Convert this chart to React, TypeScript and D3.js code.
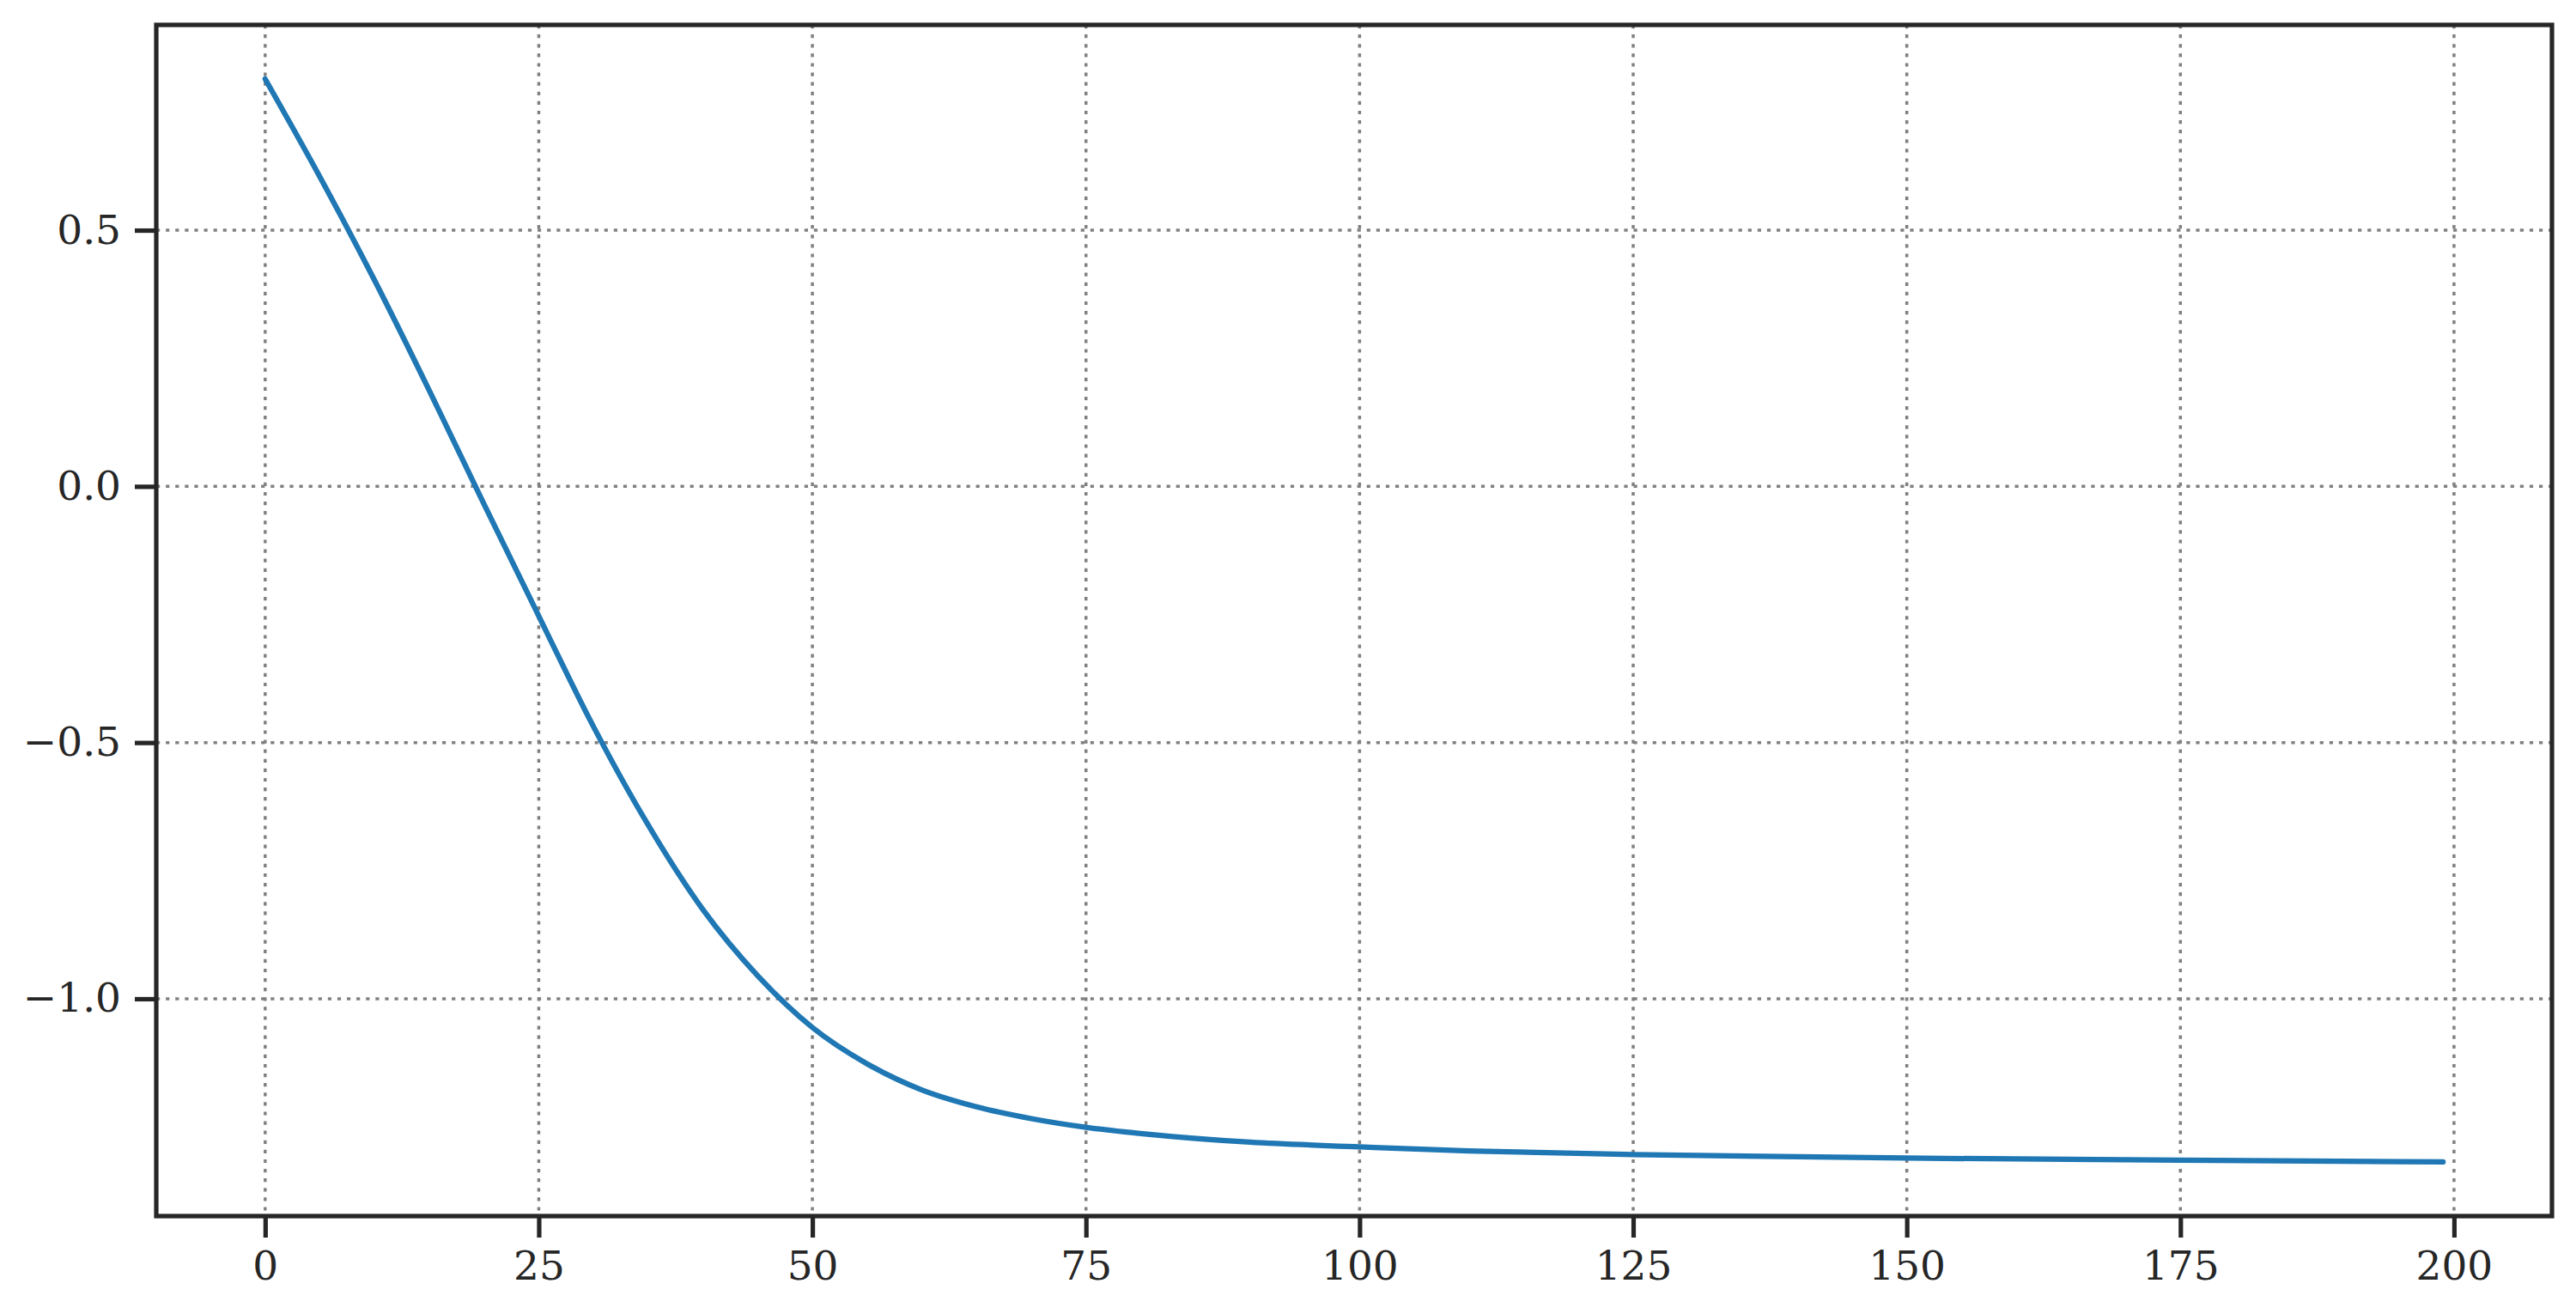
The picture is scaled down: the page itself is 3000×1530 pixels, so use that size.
import { useEffect, useRef } from "react";
import * as d3 from "d3";

const steps = [0, 5, 10, 15, 20, 25, 30, 35, 40, 45, 50, 55, 60, 65, 70, 75, 80, 90, 100, 110, 125, 150, 175, 199];
const values = [
    0.795, 0.604, 0.402, 0.187, -0.035, -0.253, -0.469, -0.661, -0.826, -0.955, -1.056, -1.127, -1.178,
    -1.211, -1.234, -1.251, -1.263, -1.28, -1.289, -1.297, -1.304, -1.311, -1.315, -1.3185,
];
const xTicks = [0, 25, 50, 75, 100, 125, 150, 175, 200];
const yTicks = [-1.0, -0.5, 0.0, 0.5];

const FONT = "DejaVu Serif";
const INK = "#262626";

const LineChart = () => {
    const svgRef = useRef<SVGSVGElement>(null);

    useEffect(() => {
        document.body.style.margin = "0";
        const svg = d3.select(svgRef.current);
        svg.selectAll("*").remove();

        const width = 3000;
        const height = 1530;
        const left = 182, right = 2972, top = 29, bottom = 1416;

        svg.attr("width", width).attr("height", height).style("background", "#fff");

        const points = steps.map((s, i) => ({ x: s, y: values[i] }));

        // matplotlib-like 5% margins
        const xMin = d3.min(steps)!, xMax = d3.max(steps)!;
        const xPad = (xMax - xMin) * 0.05;
        const yMin = d3.min(values)!, yMax = d3.max(values)!;
        const yPad = (yMax - yMin) * 0.05;

        const x = d3.scaleLinear().domain([xMin - xPad, xMax + xPad]).range([left, right]);
        const y = d3.scaleLinear().domain([yMin - yPad, yMax + yPad]).range([bottom, top]);

        // grid
        const grid = svg.append("g");
        grid.selectAll(".gx")
            .data(xTicks)
            .enter()
            .append("line")
            .attr("x1", (d) => x(d))
            .attr("x2", (d) => x(d))
            .attr("y1", top)
            .attr("y2", bottom)
            .attr("stroke", "#808080")
            .attr("stroke-width", 3.5)
            .attr("stroke-dasharray", "4.2,6.9");
        grid.selectAll(".gy")
            .data(yTicks)
            .enter()
            .append("line")
            .attr("x1", left)
            .attr("x2", right)
            .attr("y1", (d) => y(d))
            .attr("y2", (d) => y(d))
            .attr("stroke", "#808080")
            .attr("stroke-width", 3.5)
            .attr("stroke-dasharray", "4.2,6.9");

        // the curve
        const line = d3
            .line<{ x: number; y: number }>()
            .x((d) => x(d.x))
            .y((d) => y(d.y))
            .curve(d3.curveMonotoneX);

        svg.append("path")
            .datum(points)
            .attr("d", line)
            .attr("fill", "none")
            .attr("stroke", "#1f77b4")
            .attr("stroke-width", 6.25)
            .attr("stroke-linecap", "round")
            .attr("stroke-linejoin", "round");

        // axes
        const xAxis = svg.append("g")
            .attr("transform", `translate(0,${bottom})`)
            .call(d3.axisBottom(x).tickValues(xTicks).tickFormat(d3.format("d")).tickSize(25).tickPadding(16));
        const yAxis = svg.append("g")
            .attr("transform", `translate(${left},0)`)
            .call(d3.axisLeft(y).tickValues(yTicks).tickFormat(d3.format(".1f")).tickSize(25).tickPadding(16));

        [xAxis, yAxis].forEach((g) => {
            g.select(".domain").remove();
            g.selectAll(".tick line").attr("stroke", INK).attr("stroke-width", 5.2);
            g.selectAll(".tick text")
                .attr("fill", INK)
                .style("font-family", FONT)
                .style("font-size", "47px");
        });

        // frame
        svg.append("rect")
            .attr("x", left)
            .attr("y", top)
            .attr("width", right - left)
            .attr("height", bottom - top)
            .attr("fill", "none")
            .attr("stroke", INK)
            .attr("stroke-width", 5.2);
    }, []);

    return <svg ref={svgRef} style={{ display: "block" }} />;
};

export default function App() {
    return <LineChart />;
}
